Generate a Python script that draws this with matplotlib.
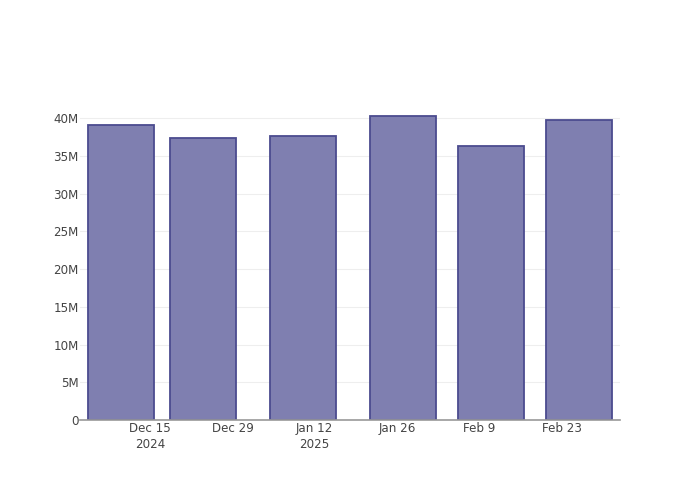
import pandas as pd
import matplotlib.pyplot as plt

# bar dates and values
dates = pd.to_datetime(["2024-12-10", "2024-12-24", "2025-01-10",
                        "2025-01-27", "2025-02-11", "2025-02-26"])
values = [39.05e6, 37.35e6, 37.6e6, 40.3e6, 36.3e6, 39.7e6]

tick_dates = pd.to_datetime(["2024-12-15", "2024-12-29", "2025-01-12",
                             "2025-01-26", "2025-02-09", "2025-02-23"])
tick_labels = ["Dec 15\n2024", "Dec 29", "Jan 12\n2025", "Jan 26", "Feb 9", "Feb 23"]
y_ticks = [0, 5e6, 10e6, 15e6, 20e6, 25e6, 30e6, 35e6, 40e6]
y_labels = ["0", "5M", "10M", "15M", "20M", "25M", "30M", "35M", "40M"]

fig = plt.figure(figsize=(7, 5), dpi=100)
ax = fig.add_axes([80 / 700, 80 / 500, 540 / 700, 320 / 500])

width = 14 * 0.8  # days, plotly default: 80% of min spacing
ax.bar(dates, values, width=width, color="#7f7fb0", edgecolor="#4b4b8f",
       linewidth=1.3, zorder=3)

pad = pd.Timedelta(days=1.35)
ax.set_xlim(dates[0] - pd.Timedelta(days=width / 2) - pad,
            dates[-1] + pd.Timedelta(days=width / 2) + pad)
ax.set_ylim(0, max(values) * 1.052)

ax.set_xticks(tick_dates)
ax.set_xticklabels(tick_labels, linespacing=1.25)
ax.set_yticks(y_ticks)
ax.set_yticklabels(y_labels)
ax.tick_params(length=0, labelsize=8.6, labelcolor="#444444")
ax.tick_params(axis="y", pad=1)
ax.tick_params(axis="x", pad=1.5)

ax.grid(axis="y", color="#eeeeee", linewidth=0.8, zorder=0)
for side in ["top", "right", "left"]:
    ax.spines[side].set_visible(False)
ax.spines["bottom"].set_color("#999999")
ax.spines["bottom"].set_linewidth(1.2)
ax.spines["bottom"].set_zorder(4)

fig.savefig("out.png", dpi=100)
